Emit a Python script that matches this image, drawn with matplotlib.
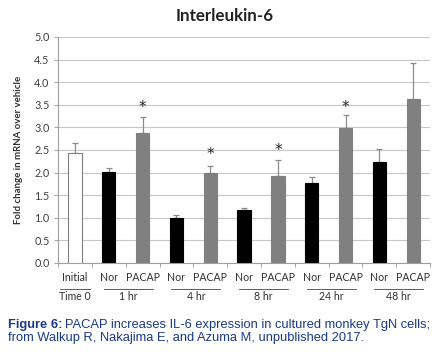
import matplotlib
matplotlib.use("Agg")
import matplotlib.pyplot as plt
import numpy as np

# data
labels = ["Initial", "Nor", "PACAP", "Nor", "PACAP", "Nor", "PACAP",
          "Nor", "PACAP", "Nor", "PACAP"]
groups = ["Time 0", "1 hr", "4 hr", "8 hr", "24 hr", "48 hr"]
values = [2.43, 2.01, 2.88, 0.99, 1.99, 1.17, 1.93, 1.77, 2.98, 2.24, 3.63]
errors = [0.22, 0.08, 0.34, 0.08, 0.15, 0.04, 0.35, 0.14, 0.30, 0.28, 0.80]
stars = [0, 0, 1, 0, 1, 0, 1, 0, 1, 0, 0]
star_y = [0, 0, 3.44, 0, 2.40, 0, 2.48, 0, 3.44, 0, 0]
colors = ["white"] + ["black", "#808080"] * 5

fig = plt.figure(figsize=(4.43, 3.52), dpi=100)
ax = fig.add_axes([0.131, 0.253, 0.84, 0.642])

x = np.arange(len(values))
ax.bar(x, values, width=0.39, color=colors, edgecolor=["#7f7f7f"] + colors[1:],
       linewidth=0.8, zorder=3)
ax.errorbar(x, values, yerr=[np.zeros(len(errors)), errors], fmt="none",
            ecolor="#8c8c8c", elinewidth=0.9, capsize=2.5, capthick=0.9, zorder=2)
for xi, s, sy in zip(x, stars, star_y):
    if s:
        ax.text(xi, sy, "*", ha="center", va="center", fontsize=11, color="#222222")

ax.set_xlim(-0.5, 10.5)
ax.set_ylim(0, 5)
ax.set_yticks(np.arange(0, 5.01, 0.5))
ax.set_yticklabels([f"{v:.1f}" for v in np.arange(0, 5.01, 0.5)],
                   fontsize=7.8, color="#404040", family="Lato")
ax.yaxis.grid(True, color="#c8c8c8", linewidth=0.8, zorder=0)
ax.set_axisbelow(True)
ax.set_xticks(np.arange(-0.5, 10.6, 1))
ax.set_xticklabels([])
ax.tick_params(axis="x", length=3, color="#a0a0a0", width=0.7)
ax.tick_params(axis="y", length=3, color="#a0a0a0", width=0.7, pad=3)
for side in ["top", "right"]:
    ax.spines[side].set_visible(False)
for side in ["left", "bottom"]:
    ax.spines[side].set_color("#a0a0a0")
    ax.spines[side].set_linewidth(0.8)

ax.set_ylabel("Fold change in mRNA over vehicle", fontsize=6.9, fontweight="bold",
              color="#303030", family="Lato", labelpad=8)
fig.text(0.506, 0.955, "Interleukin-6", ha="center", va="center", fontsize=12.2,
         fontweight="bold", color="#222222", family="Lato")

# two level category labels
trans = ax.get_xaxis_transform()
for xi, lab in zip(x, labels):
    ax.text(xi, -0.066, lab, transform=trans, ha="center", va="center",
            fontsize=7.6, color="#303030", family="Lato")
spans = [(0, 0)] + [(1 + 2 * i, 2 + 2 * i) for i in range(5)]
for i, ((a, b), g) in enumerate(zip(spans, groups)):
    lo, hi = (a - 0.44, b + 0.45) if i == 0 else (a - 0.15, b + 0.3)
    ax.plot([lo, hi], [-0.115, -0.115], transform=trans,
            color="#404040", linewidth=0.6, clip_on=False)
    ax.text((lo + hi) / 2, -0.148, g, transform=trans, ha="center", va="center",
            fontsize=7.6, color="#303030", family="Lato")

cap_color = "#1a3a85"
t1 = fig.text(0.018, 0.077, "Figure 6:", fontsize=9.3, fontweight="bold",
              color=cap_color, family="Liberation Sans", va="center")
fig.canvas.draw()
bb = t1.get_window_extent().transformed(fig.transFigure.inverted())
fig.text(bb.x1 + 0.006, 0.077,
         "PACAP increases IL-6 expression in cultured monkey TgN cells;",
         fontsize=9.3, color=cap_color, family="Liberation Sans", va="center")
fig.text(0.018, 0.04, "from Walkup R, Nakajima E, and Azuma M, unpublished 2017.",
         fontsize=9.3, color=cap_color, family="Liberation Sans", va="center")

fig.savefig("out.png", dpi=100)
